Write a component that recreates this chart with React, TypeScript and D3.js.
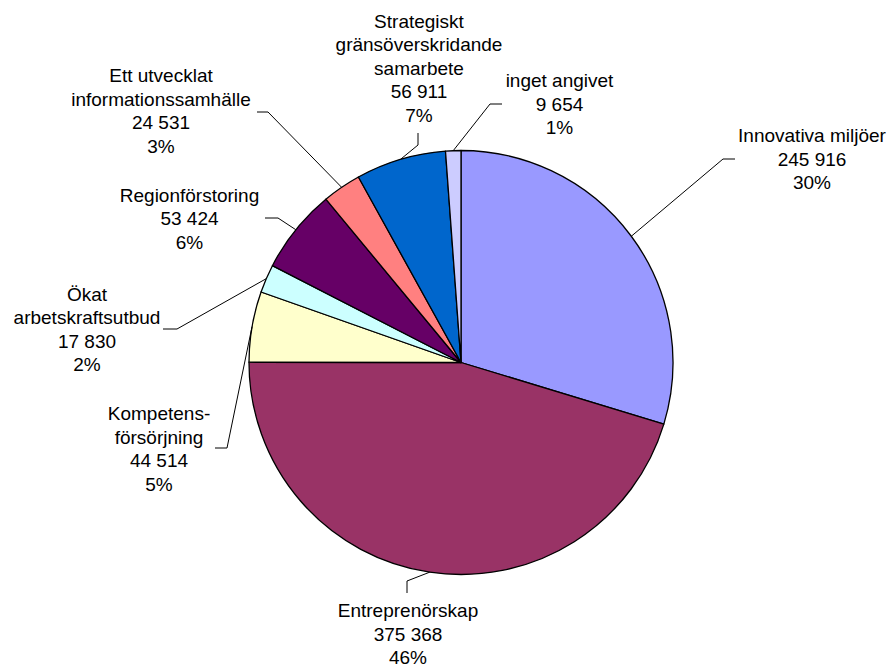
import React from "react";
import * as d3 from "d3";

const categories = [
  "Innovativa miljöer",
  "Entreprenörskap",
  "Kompetensförsörjning",
  "Ökat arbetskraftsutbud",
  "Regionförstoring",
  "Ett utvecklat informationssamhälle",
  "Strategiskt gränsöverskridande samarbete",
  "inget angivet",
];
const values = [245916, 375368, 44514, 17830, 53424, 24531, 56911, 9654];
const valueLabels = ["245 916", "375 368", "44 514", "17 830", "53 424", "24 531", "56 911", "9 654"];
const percentLabels = ["30%", "46%", "5%", "2%", "6%", "3%", "7%", "1%"];
const nameLines = [
  ["Innovativa miljöer"],
  ["Entreprenörskap"],
  ["Kompetens-", "försörjning"],
  ["Ökat", "arbetskraftsutbud"],
  ["Regionförstoring"],
  ["Ett utvecklat", "informationssamhälle"],
  ["Strategiskt", "gränsöverskridande", "samarbete"],
  ["inget angivet"],
];
const colors = ["#9999FF", "#993366", "#FFFFCC", "#CCFFFF", "#660066", "#FF8080", "#0066CC", "#CCCCFF"];

// layout: label centre x, first baseline y, leader elbow and end points
const labelLayout = [
  { x: 812, y: 142, elbow: [723, 159], end: [735, 159] },
  { x: 408, y: 617, elbow: [407, 581], end: [407, 593] },
  { x: 159, y: 420, elbow: [227, 448], end: [215, 448] },
  { x: 87, y: 300.5, elbow: [177, 329], end: [163, 329] },
  { x: 189.5, y: 201.5, elbow: [278, 218], end: [265, 218] },
  { x: 161, y: 82, elbow: [268, 112], end: [257, 112] },
  { x: 419, y: 27.5, elbow: [418, 145], end: [418, 133] },
  { x: 559.5, y: 87, elbow: [490, 104], end: [502, 104] },
];

const W = 892;
const H = 665;
const cx = 461;
const cy = 362.5;
const R = 212;
const lineH = 23.5;

export default function App() {
  const data = values.map((v, i) => ({ v, i }));
  const pie = d3.pie<{ v: number; i: number }>().value((d) => d.v).sort(null);
  const arcs = pie(data);
  const arcGen = d3.arc<d3.PieArcDatum<{ v: number; i: number }>>().innerRadius(0).outerRadius(R);

  return (
    <div style={{ position: "absolute", left: 0, top: 0, width: W, height: H, background: "#fff" }}>
      <svg width={W} height={H} style={{ display: "block" }}>
        <rect width={W} height={H} fill="#fff" />
        <g transform={`translate(${cx},${cy})`}>
          {arcs.map((a) => (
            <path key={a.data.i} d={arcGen(a) || ""} fill={colors[a.data.i]} stroke="#000" strokeWidth={1.3} strokeLinejoin="round" />
          ))}
        </g>
        {arcs.map((a) => {
          const i = a.data.i;
          const mid = (a.startAngle + a.endAngle) / 2;
          const sx = cx + R * Math.sin(mid);
          const sy = cy - R * Math.cos(mid);
          const L = labelLayout[i];
          const pts = [[sx, sy], L.elbow, L.end];
          const lines = [...nameLines[i], valueLabels[i], percentLabels[i]];
          return (
            <g key={"l" + i}>
              <polyline points={pts.map((p) => p.join(",")).join(" ")} fill="none" stroke="#000" strokeWidth={1} />
              <text
                x={L.x}
                y={L.y}
                textAnchor="middle"
                fontFamily="'Liberation Sans', Arial, sans-serif"
                fontSize={19}
                fill="#000"
              >
                {lines.map((t, k) => (
                  <tspan key={k} x={L.x} y={L.y + k * lineH}>
                    {t}
                  </tspan>
                ))}
              </text>
            </g>
          );
        })}
      </svg>
    </div>
  );
}
